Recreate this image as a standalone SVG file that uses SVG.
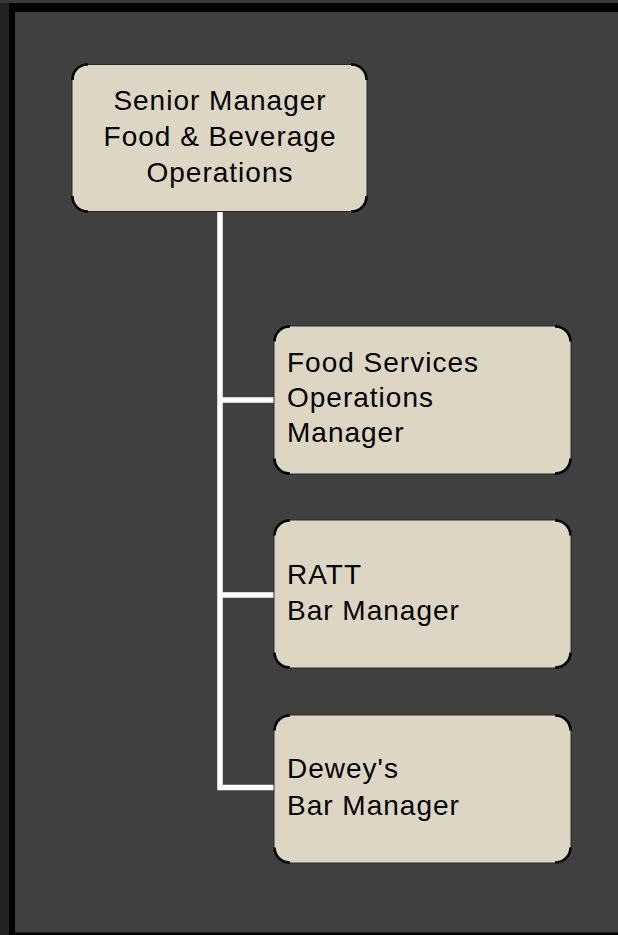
<svg xmlns="http://www.w3.org/2000/svg" width="618" height="935" viewBox="0 0 618 935">
<style>
.box{fill:#dcd6c2;stroke:#2a2a2a;stroke-width:1}
.corner{fill:none;stroke:#000;stroke-width:2.6}
.lbl{font-family:"Liberation Sans",Arial,Helvetica,sans-serif;font-size:28px;fill:#000;letter-spacing:1px}
.conn{fill:none;stroke:#fff;stroke-width:5.5;stroke-linejoin:miter}
</style>
<rect x="0" y="0" width="618" height="935" fill="#232323"/>
<rect x="0" y="0" width="618" height="3" fill="#3a3a3a"/>
<rect x="9" y="3" width="620" height="935" fill="#000"/>
<rect x="15" y="12" width="610" height="920.5" fill="#404040"/>
<g id="connectors">
<path class="conn" d="M220,212 V787.5 H274"/>
<path class="conn" d="M220,400 H274"/>
<path class="conn" d="M220,595 H274"/>
</g>
<g id="node-senior">
<rect class="box" x="72" y="64.5" width="295" height="147" rx="15"/>
<path class="corner" d="M72.5,80 A15 15 0 0 1 88,64.5 M351,64.5 A15 15 0 0 1 366.5,80 M366.5,196 A15 15 0 0 1 351,211.5 M88,211.5 A15 15 0 0 1 72.5,196"/>
<text class="lbl" text-anchor="middle"><tspan x="220" y="110">Senior Manager</tspan><tspan x="220" y="146">Food &amp; Beverage</tspan><tspan x="220" y="182">Operations</tspan></text>
</g>
<g id="node-food-services">
<rect class="box" x="274" y="326" width="297" height="148" rx="15"/>
<path class="corner" d="M274.5,341.5 A15 15 0 0 1 290,326.5 M555,326.5 A15 15 0 0 1 570.5,341.5 M570.5,458.5 A15 15 0 0 1 555,473.5 M290,473.5 A15 15 0 0 1 274.5,458.5"/>
<text class="lbl"><tspan x="287" y="372">Food Services</tspan><tspan x="287" y="407">Operations</tspan><tspan x="287" y="442">Manager</tspan></text>
</g>
<g id="node-ratt">
<rect class="box" x="274" y="520" width="297" height="148" rx="15"/>
<path class="corner" d="M274.5,535.5 A15 15 0 0 1 290,520.5 M555,520.5 A15 15 0 0 1 570.5,535.5 M570.5,652.5 A15 15 0 0 1 555,667.5 M290,667.5 A15 15 0 0 1 274.5,652.5"/>
<text class="lbl"><tspan x="287" y="583.5">RATT</tspan><tspan x="287" y="619.5">Bar Manager</tspan></text>
</g>
<g id="node-deweys">
<rect class="box" x="274" y="715" width="297" height="148" rx="15"/>
<path class="corner" d="M274.5,730.5 A15 15 0 0 1 290,715.5 M555,715.5 A15 15 0 0 1 570.5,730.5 M570.5,847.5 A15 15 0 0 1 555,862.5 M290,862.5 A15 15 0 0 1 274.5,847.5"/>
<text class="lbl"><tspan x="287" y="778">Dewey's</tspan><tspan x="287" y="815">Bar Manager</tspan></text>
</g>
</svg>
